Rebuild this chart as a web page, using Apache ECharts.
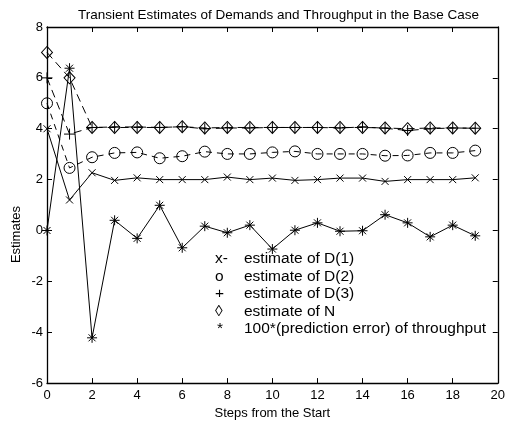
<!DOCTYPE html>
<html>
<head>
<meta charset="utf-8">
<script src="https://cdn.jsdelivr.net/npm/echarts@6/dist/echarts.min.js"></script>
<style>html,body{margin:0;padding:0;background:#fff}#c{width:508px;height:425px}</style>
</head>
<body>
<div id="c"></div>
<script>
var steps = [0,1,2,3,4,5,6,7,8,9,10,11,12,13,14,15,16,17,18,19];
var estD1 = [4,1.2,2.27,1.97,2.07,2.0,2.0,2.0,2.1,2.0,2.06,1.97,2.0,2.06,2.06,1.93,2.0,2.0,2.0,2.07];
var estD2 = [5,2.46,2.88,3.05,3.07,2.84,2.92,3.1,3.01,3.01,3.07,3.11,3.01,3.01,3.01,2.94,2.95,3.05,3.05,3.14];
var estD3 = [6,3.79,4.05,4.07,4.07,4.05,4.08,4.0,4.03,4.03,4.05,4.05,4.05,4.03,4.07,4.02,3.93,4.0,4.03,4.02];
var estN = [7,6.0,4.05,4.05,4.05,4.05,4.08,4.03,4.05,4.05,4.05,4.05,4.05,4.05,4.05,4.03,4.0,4.03,4.03,4.02];
var thrErr = [0,6.38,-4.22,0.4,-0.31,0.99,-0.68,0.17,-0.09,0.21,-0.73,0.01,0.3,-0.03,-0.01,0.62,0.3,-0.25,0.21,-0.21];
var xTicks = [0,2,4,6,8,10,12,14,16,18,20];
var yTicks = [-6,-4,-2,0,2,4,6,8];
var titleText = 'Transient Estimates of Demands and Throughput in the Base Case';
var xLabel = 'Steps from the Start';
var yLabel = 'Estimates';
var legendSyms = ['x-','o','+','\u25CA','*'];
var legendTexts = ['estimate of D(1)','estimate of D(2)','estimate of D(3)','estimate of N','100*(prediction error) of throughput'];

function pairs(arr){ return steps.map(function(s,i){ return [s, arr[i]]; }); }

var FONT = 'Liberation Sans, Arial, sans-serif';
var markStyle = {color:'transparent', borderColor:'#000', borderWidth:1};
var symX = 'path://M0,0L10,10M10,0L0,10';
var symPlus = 'path://M5,0L5,10M0,5L10,5';
var symStar = 'path://M5,0L5,10M0,5L10,5M1.5,1.5L8.5,8.5M8.5,1.5L1.5,8.5';
var symDiamond = 'path://M5,0L10,6L5,12L0,6Z';

function mkSeries(data, symbol, size, lineType){
  return {
    type:'line', data: pairs(data), symbol: symbol, symbolSize: size,
    showAllSymbol: true, animation:false, silent:true,
    lineStyle:{color:'#000', width:1, type: lineType},
    itemStyle: markStyle
  };
}

var chart = echarts.init(document.getElementById('c'), null, {renderer:'canvas'});
var axisCommon = {
  type:'value', axisLine:{show:true, onZero:false, lineStyle:{color:'#000', width:1.3}},
  axisTick:{show:true, inside:true, length:5, lineStyle:{color:'#000'}},
  splitLine:{show:false}
};
var graphics = [];
legendSyms.forEach(function(s,i){
  var y = 260 + i*17.5;
  graphics.push({type:'text', left:(s==='*'?217:215), top:y-9, style:{text:s, font:'15.5px '+FONT, fill:'#000'}});
  graphics.push({type:'text', left:244, top:y-9, style:{text:legendTexts[i], font:'15.5px '+FONT, fill:'#000'}});
});
graphics.push({type:'text', left:10, top:206, rotation:Math.PI/2, style:{text:yLabel, font:'13px '+FONT, fill:'#000', align:'center', verticalAlign:'middle'}});

chart.setOption({
  animation:false,
  backgroundColor:'#fff',
  title:{text:titleText, left:273.5, textAlign:'center', top:3, textStyle:{fontSize:13.5, fontWeight:'normal', color:'#000', fontFamily:FONT}},
  grid:{left:47, right:8, top:27, bottom:39, containLabel:false},
  xAxis:[
    Object.assign({}, axisCommon, {min:0, max:20, interval:2, position:'bottom',
      axisLabel:{show:true, color:'#000', fontSize:13, fontFamily:FONT, margin:6, showMaxLabel:true},
      name:xLabel, nameLocation:'middle', nameGap:21, nameTextStyle:{color:'#000', fontSize:13, fontFamily:FONT}}),
    Object.assign({}, axisCommon, {min:0, max:20, interval:2, position:'top', axisLabel:{show:false}})
  ],
  yAxis:[
    Object.assign({}, axisCommon, {min:-6, max:8, interval:2, position:'left',
      axisLabel:{show:true, color:'#000', fontSize:13, fontFamily:FONT, margin:4}}),
    Object.assign({}, axisCommon, {min:-6, max:8, interval:2, position:'right', axisLabel:{show:false}})
  ],
  series:[
    mkSeries(estD1, symX, 7, 'solid'),
    mkSeries(estD2, 'circle', 11, [6,5]),
    mkSeries(estD3, symPlus, 11, [8,5]),
    mkSeries(estN, symDiamond, [11,12], [8,5]),
    mkSeries(thrErr, symStar, 10, 'solid')
  ],
  graphic: graphics
});
</script>
</body>
</html>
